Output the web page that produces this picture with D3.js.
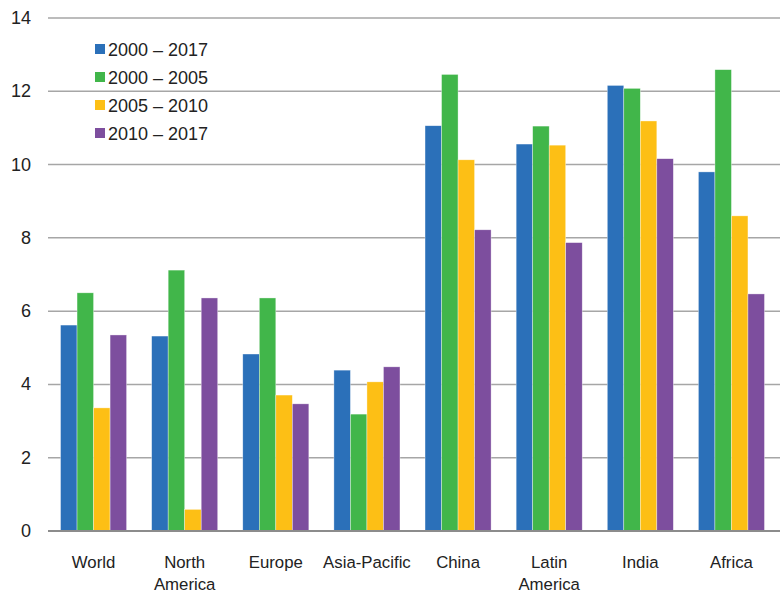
<!DOCTYPE html>
<html><head><meta charset="utf-8">
<script src="https://cdn.jsdelivr.net/npm/d3@7"></script>
<style>body{margin:0;background:#fff}svg text{font-family:"Liberation Sans",Arial,sans-serif;fill:#222}</style>
</head><body><svg id="c" width="780" height="595"></svg>
<script>
const categories = ["World","North America","Europe","Asia-Pacific","China","Latin America","India","Africa"];
const categoryLines = [["World"],["North","America"],["Europe"],["Asia-Pacific"],["China"],["Latin","America"],["India"],["Africa"]];
const seriesNames = ["2000 – 2017","2000 – 2005","2005 – 2010","2010 – 2017"];
const s2000_2017 = [5.62,5.32,4.83,4.39,11.06,10.56,12.16,9.80];
const s2000_2005 = [6.50,7.12,6.36,3.19,12.46,11.05,12.08,12.59];
const s2005_2010 = [3.36,0.59,3.71,4.07,10.13,10.53,11.19,8.60];
const s2010_2017 = [5.35,6.36,3.47,4.48,8.22,7.87,10.16,6.47];
const yTicks = [0,2,4,6,8,10,12,14];
const colors = ["#2b70b9","#41b64a","#fdbf15","#7d4e9e"];
const series = [s2000_2017,s2000_2005,s2005_2010,s2010_2017];

const svg = d3.select("#c");
const x0 = d3.scaleBand().domain(categories).range([48,777]).paddingInner(0.275).paddingOuter(0.1375);
const x1 = d3.scaleBand().domain(d3.range(4)).range([0,x0.bandwidth()]);
const y = d3.scaleLinear().domain([0,14]).range([531,18]);

svg.append("g").selectAll("line").data(yTicks.filter(d=>d>0)).join("line")
  .attr("x1",48).attr("x2",780).attr("y1",d=>y(d)).attr("y2",d=>y(d))
  .attr("stroke","#a6a6a6").attr("stroke-width",1.5);

const g = svg.append("g");
categories.forEach((c,i)=>{
  series.forEach((s,j)=>{
    g.append("rect").attr("x",x0(c)+x1(j)).attr("width",x1.bandwidth())
      .attr("y",y(s[i])).attr("height",y(0)-y(s[i]))
      .attr("fill",colors[j]).attr("stroke","rgba(255,255,255,0.6)").attr("stroke-width",0.6);
  });
});

svg.append("line").attr("x1",48).attr("x2",780).attr("y1",y(0)).attr("y2",y(0))
  .attr("stroke","#8c8c8c").attr("stroke-width",2);

svg.append("g").selectAll("text").data(yTicks).join("text")
  .attr("x",31).attr("y",d=>y(d)+6).attr("text-anchor","end")
  .attr("font-size",18).text(d=>d);

categories.forEach((c,i)=>{
  const cx = x0(c)+x0.bandwidth()/2;
  const t = svg.append("text").attr("x",cx).attr("y",568)
    .attr("text-anchor","middle").attr("font-size",16.8);
  categoryLines[i].forEach((l,k)=>t.append("tspan").attr("x",cx).attr("dy",k?22:0).text(l));
});

const lg = svg.append("g");
seriesNames.forEach((n,k)=>{
  lg.append("rect").attr("x",95).attr("y",44+k*28).attr("width",10).attr("height",10).attr("fill",colors[k]);
  lg.append("text").attr("x",108).attr("y",55.5+k*28).attr("font-size",18).text(n);
});
</script></body></html>
